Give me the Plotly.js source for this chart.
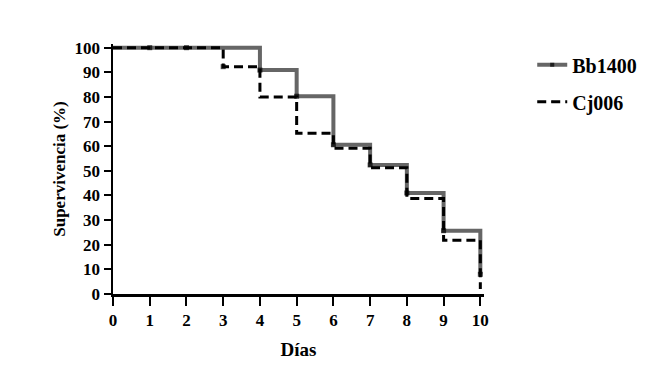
<!DOCTYPE html>
<html>
<head>
<meta charset="utf-8">
<script src="https://cdn.plot.ly/plotly-3.0.1.min.js"></script>
<style>html,body{margin:0;padding:0;background:#fff;}#chart{width:659px;height:377px;}</style>
</head>
<body>
<div id="chart"></div>
<script>
const days = [0, 1, 2, 3, 4, 5, 6, 7, 8, 9, 10];
const bb1400 = [100, 100, 100, 100, 90.9, 80.3, 60.6, 52.4, 41.0, 25.7, 8.0];
const cj006 = [100, 100, 100, 92.3, 80.0, 65.3, 59.2, 51.3, 38.8, 21.8, 2.0];
const censorBb = [0, 1, 1, 0, 1, 1, 1, 1, 1, 1, 1];
const censorCj = [0, 0, 0, 1, 0, 0, 0, 0, 0, 0, 0];
const xTicks = [0, 1, 2, 3, 4, 5, 6, 7, 8, 9, 10];
const yTicks = [0, 10, 20, 30, 40, 50, 60, 70, 80, 90, 100];

const serif = "Liberation Serif";
const traces = [
  {
    x: days, y: bb1400, name: 'Bb1400', mode: 'lines+markers', legendgroup: 'a',
    line: {shape: 'hv', color: '#666666', width: 4},
    marker: {symbol: 'square', size: censorBb.map(c => c ? 5 : 0), color: '#000', line: {width: 0}},
    cliponaxis: false
  },
  {
    x: days, y: cj006, name: 'Cj006', mode: 'lines+markers', legendgroup: 'b',
    line: {shape: 'hv', color: '#000000', width: 3, dash: '9px,5px'},
    marker: {symbol: 'square', size: censorCj.map(c => c ? 5 : 0), color: '#000', line: {width: 0}},
    cliponaxis: false
  }
];
const layout = {
  width: 659, height: 377,
  margin: {l: 113, r: 175, t: 44, b: 83},
  paper_bgcolor: '#fff', plot_bgcolor: '#fff',
  font: {family: serif, color: '#000'},
  xaxis: {
    range: [0, 10.1], tickvals: xTicks, ticktext: xTicks.map(String),
    showgrid: false, zeroline: false, showline: true, linecolor: '#000', linewidth: 2.5,
    ticks: 'outside', ticklen: 9, tickwidth: 2, tickcolor: '#000',
    tickfont: {family: serif, size: 17, weight: 'bold', color: '#000'},
    title: {text: 'Días', font: {family: serif, size: 19, weight: 'bold', color: '#000'}, standoff: 14}
  },
  yaxis: {
    range: [0, 101.5], tickvals: yTicks, ticktext: yTicks.map(String),
    showgrid: false, zeroline: false, showline: true, linecolor: '#000', linewidth: 2.5,
    ticks: 'outside', ticklen: 7, tickwidth: 2, tickcolor: '#000',
    tickfont: {family: serif, size: 17, weight: 'bold', color: '#000'},
    title: {text: 'Supervivencia (%)', font: {family: serif, size: 17, weight: 'bold', color: '#000'}, standoff: 5}
  },
  showlegend: true,
  legend: {
    x: 1.13, y: 0.995, xanchor: 'left', yanchor: 'top',
    traceorder: 'grouped', tracegroupgap: 8, itemwidth: 30,
    font: {family: serif, size: 20, weight: 'bold', color: '#000'},
    bgcolor: 'rgba(0,0,0,0)'
  }
};
Plotly.newPlot('chart', traces, layout, {displayModeBar: false, staticPlot: true});
</script>
</body>
</html>
